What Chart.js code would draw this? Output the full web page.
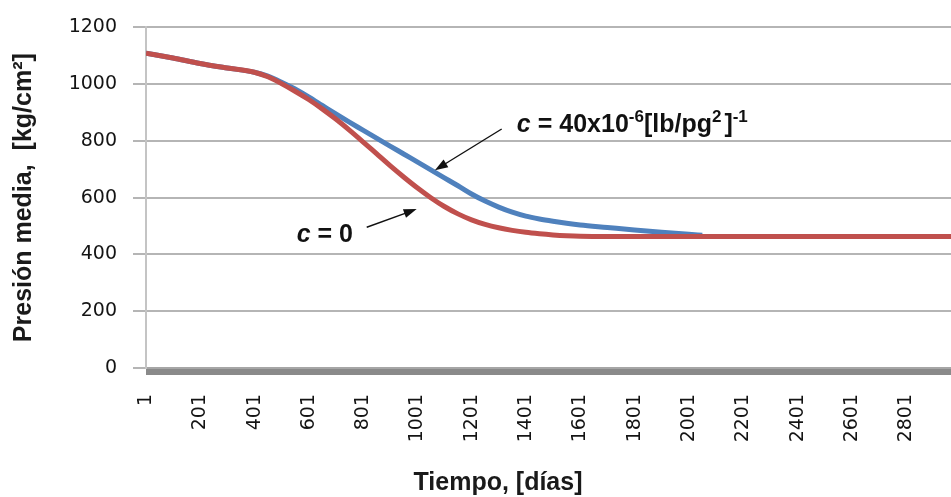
<!DOCTYPE html>
<html>
<head>
<meta charset="utf-8">
<script src="https://cdn.jsdelivr.net/npm/chart.js@4.4.0/dist/chart.umd.min.js"></script>
<style>
  html, body { margin: 0; padding: 0; background: #fff; }
  #wrap { width: 951px; height: 497px; }
</style>
</head>
<body>
<div id="wrap"><canvas id="chart" width="951" height="497"></canvas></div>
<script>
// presion media vs tiempo, c = 0 (rojo) y c = 40e-6 (azul)
const diaFinal = 2966

const diasC0 = [1, 100, 200, 300, 400, 450, 500, 550, 600, 650, 700, 750, 800, 850, 900, 950, 1000,
  1050, 1100, 1150, 1200, 1250, 1300, 1350, 1400, 1450, 1500, 1550, 1600, 1700, 1800, 2000,
  2200, 2400, 2600, 2800, 2966]
const presionC0 = [1109, 1092, 1073, 1057, 1042, 1026, 1002, 975, 946, 913, 877, 838, 797, 755, 713, 673, 635,
  600, 569, 543, 522, 506, 494, 485, 478, 473, 469, 466, 464, 463, 463, 463,
  463, 463, 463, 463, 463]

const diasC40 = [1, 100, 200, 300, 400, 450, 500, 550, 600, 650, 700, 750, 800, 850, 900, 950, 1000,
  1050, 1100, 1150, 1200, 1250, 1300, 1350, 1400, 1450, 1500, 1550, 1600, 1700, 1800, 1900, 2000, 2050]
const presionC40 = [1109, 1092, 1073, 1057, 1042, 1028, 1007, 983, 955, 925, 895, 866, 838, 810, 782, 754, 726,
  698, 670, 642, 613, 588, 567, 549, 535, 525, 517, 510, 504, 495, 486, 478, 471, 468]

const etiquetasX = [1, 201, 401, 601, 801, 1001, 1201, 1401, 1601, 1801, 2001, 2201, 2401, 2601, 2801]
const ticksY = [0, 200, 400, 600, 800, 1000, 1200]

// una marca cada dos dias en el eje x
const marcasX = []
for (let d = 1; d <= diaFinal; d += 2) marcasX.push(d)

const fuenteEje = { family: 'DejaVu Sans', size: 19 }
const colorTexto = '#141414'
const negrita = '"Liberation Sans", Arial, sans-serif'

function textoRico(ctx, partes, x, y) {
  let cx = x
  ctx.textAlign = 'left'
  ctx.textBaseline = 'alphabetic'
  for (const p of partes) {
    ctx.font = p.font
    ctx.fillText(p.t, cx, y + (p.dy || 0))
    cx += ctx.measureText(p.t).width + (p.gap || 0)
  }
}

function flecha(ctx, x0, y0, x1, y1) {
  const a = Math.atan2(y1 - y0, x1 - x0)
  const c = Math.cos(a), s = Math.sin(a)
  ctx.strokeStyle = '#111'
  ctx.fillStyle = '#111'
  ctx.lineWidth = 1.4
  ctx.beginPath()
  ctx.moveTo(x0, y0)
  ctx.lineTo(x1 - 8 * c, y1 - 8 * s)
  ctx.stroke()
  ctx.beginPath()
  ctx.moveTo(x1, y1)
  ctx.lineTo(x1 - 13 * c + 4.5 * s, y1 - 13 * s - 4.5 * c)
  ctx.lineTo(x1 - 13 * c - 4.5 * s, y1 - 13 * s + 4.5 * c)
  ctx.closePath()
  ctx.fill()
}

const notas = {
  id: 'notas',
  afterDraw(chart) {
    const { ctx, scales: { x, y } } = chart
    ctx.save()
    ctx.fillStyle = '#111'

    // flechas hacia cada curva
    flecha(ctx, x.getPixelForValue(1311), y.getPixelForValue(842),
      x.getPixelForValue(1065), y.getPixelForValue(697))
    flecha(ctx, x.getPixelForValue(814), y.getPixelForValue(496),
      x.getPixelForValue(998), y.getPixelForValue(560))

    ctx.fillStyle = '#111'
    const g = 'bold 25px ' + negrita
    const gi = 'italic bold 25px ' + negrita
    const sup = 'bold 17px ' + negrita
    textoRico(ctx, [
      { t: 'c', font: gi },
      { t: ' = 40x10', font: g },
      { t: '-6', font: sup, dy: -10 },
      { t: '[lb/pg', font: g },
      { t: '2', font: sup, dy: -10, gap: 3 },
      { t: ']', font: g },
      { t: '-1', font: sup, dy: -10 }
    ], x.getPixelForValue(1367), y.getPixelForValue(831))

    textoRico(ctx, [
      { t: 'c', font: gi },
      { t: ' = 0', font: g }
    ], x.getPixelForValue(556), y.getPixelForValue(444))

    // titulo del eje x
    ctx.font = 'bold 25px ' + negrita
    ctx.textAlign = 'center'
    ctx.fillStyle = '#1a1a1a'
    ctx.fillText('Tiempo, [días]', 498, 490)
    ctx.restore()
  }
}

new Chart(document.getElementById('chart'), {
  type: 'line',
  data: {
    datasets: [
      {
        label: 'c = 0',
        data: diasC0.map((d, i) => ({ x: d, y: presionC0[i] })),
        borderColor: '#C0504D',
        borderWidth: 5,
        pointRadius: 0,
        cubicInterpolationMode: 'monotone',
        fill: false
      },
      {
        label: 'c = 40x10-6',
        data: diasC40.map((d, i) => ({ x: d, y: presionC40[i] })),
        borderColor: '#4F81BD',
        borderWidth: 5,
        pointRadius: 0,
        cubicInterpolationMode: 'monotone',
        fill: false
      }
    ]
  },
  options: {
    responsive: false,
    devicePixelRatio: 1,
    animation: false,
    layout: { padding: { top: 22, left: 0, right: 0, bottom: 0 } },
    plugins: { legend: { display: false }, tooltip: { enabled: false } },
    scales: {
      x: {
        type: 'linear',
        min: 1,
        max: diaFinal,
        afterBuildTicks(scale) { scale.ticks = marcasX.map(v => ({ value: v })) },
        afterFit(scale) {
          scale.height = 129
          scale.paddingLeft = 0
          scale.paddingRight = 0
        },
        ticks: {
          autoSkip: false,
          minRotation: 90,
          maxRotation: 90,
          padding: 19,
          font: fuenteEje,
          color: colorTexto,
          callback: v => etiquetasX.includes(v) ? String(v) : ''
        },
        grid: { drawOnChartArea: false, tickLength: 7, color: '#8a8a8a', tickWidth: 1 },
        border: { color: '#a6a6a6', width: 2 }
      },
      y: {
        min: 0,
        max: 1200,
        afterBuildTicks(scale) { scale.ticks = ticksY.map(v => ({ value: v })) },
        afterFit(scale) { scale.width = 146 },
        ticks: { padding: 16, font: fuenteEje, color: colorTexto, callback: v => String(v) },
        grid: { color: '#b5b5b5', lineWidth: 2, tickLength: 13 },
        border: { color: '#c4c4c4', width: 2 },
        title: {
          display: true,
          text: 'Presión media,  [kg/cm²]',
          font: { family: 'Liberation Sans', size: 25, weight: 'bold' },
          color: '#1a1a1a',
          padding: { top: 9, bottom: 0 }
        }
      }
    }
  },
  plugins: [notas]
})
</script>
</body>
</html>
